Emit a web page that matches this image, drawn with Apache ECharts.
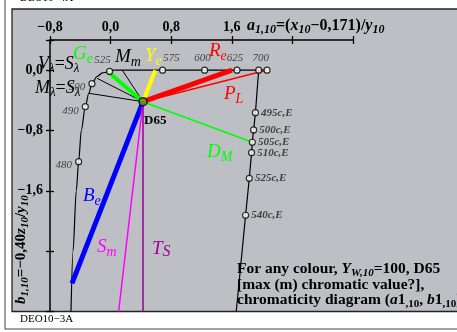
<!DOCTYPE html>
<html>
<head>
<meta charset="utf-8">
<title>DEO10-3A</title>
<script src="https://cdn.jsdelivr.net/npm/echarts@6/dist/echarts.min.js"></script>
<style>
html,body{margin:0;padding:0;background:#fff;}
#main{width:457px;height:332px;}
</style>
</head>
<body>
<div id="main"></div>
<script>
// spectral locus, left branch + top line (a1,10 ; b1,10)
var locusA=[-0.523,-0.496,-0.453,-0.422,-0.387,-0.334,-0.288,-0.246,-0.180,-0.110,-0.013,0.036,0.686,1.241,1.669,1.955,2.065];
var locusB=[-3.2,-2.4,-1.6,-1.214,-0.8,-0.484,-0.306,-0.179,-0.084,-0.037,-0.017,0,0,0,0,0,0];
// marked wavelengths
var waveNames=['480','490','500','525','575','600','625','700',''];
var waveA=[-0.422,-0.334,-0.246,-0.013,0.686,1.241,1.669,1.955,2.065];
var waveB=[-1.214,-0.484,-0.179,-0.017,0,0,0,0,0];
// complementary wavelengths line (c,E)
var compNames=['','495c,E','500c,E','505c,E','510c,E','525c,E','540c,E',''];
var compA=[1.955,1.912,1.888,1.871,1.861,1.831,1.782,1.659];
var compB=[0,-0.564,-0.793,-0.956,-1.094,-1.434,-1.924,-3.2];
var d65=[0.428,-0.418];
// lines starting at D65
var rayNames=['k1','k2','k3','Ge','Ye','Re','PL','DM','Be','Sm','TS'];
var rayA=[0.154,-0.180,-0.290,-0.031,0.590,1.603,2.055,1.871,-0.510,0.106,0.428];
var rayB=[0,-0.107,-0.306,-0.024,0,0,0,-0.956,-2.826,-3.2,-3.2];
var xTickVals=[-0.8,0,0.8,1.6];
var xTicks=['−0,8','0,0','0,8','1,6'];
var yTickVals=[0,-0.8,-1.6];
var yTicks=['0,0','−0,8','−1,6'];

var rayColors=['#000','#000','#000','#00ff00','#ffff00','#ff0000','#ff0000','#00ff00','#0000ff','#ff00ff','#990099'];
var rayWidths=[1,1,1,4,4,5,1.5,1.5,5,1.5,1.5];
var waveLabelPos=[['left',0,3],['left',0,4],['left',0,3],['top',-7,1],['top',9,0],['top',-2,0],['top',-2,0],['top',2,0],null];

var serif='"Liberation Serif","DejaVu Serif",serif';
var chart=echarts.init(document.getElementById('main'));

function fmt(vals,names){
  return function(v){
    for(var i=0;i<vals.length;i++){ if(Math.abs(vals[i]-v)<1e-6) return names[i]; }
    return '';
  };
}
function pairs(a,b){ return a.map(function(v,i){ return [v,b[i]]; }); }

// rich styles: m main italic, n main upright, s subscript italic, t subscript upright
function richSet(size,sub,pad,weight){
  var w=weight||'normal';
  function st(fs,style,p){
    var o={fontSize:fs,fontFamily:serif,fontStyle:style,fontWeight:w,verticalAlign:'middle'};
    if(p) o.padding=[p,0,0,0];
    return o;
  }
  return {m:st(size,'italic'),n:st(size,'normal'),s:st(sub,'italic',pad),t:st(sub,'normal',pad)};
}
function note(x,y,text,color,rich,extra){
  var o={type:'text',x:x,y:y,z:100,style:{text:text,fill:color,rich:rich,align:'left',verticalAlign:'middle'}};
  if(extra){ for(var k in extra) o[k]=extra[k]; }
  return o;
}

var series=[];
series.push({type:'line',data:pairs(locusA,locusB),smooth:0.3,smoothMonotone:'x',symbol:'none',
  lineStyle:{color:'#000',width:1.2},z:3,silent:true});
series.push({type:'line',data:pairs(compA,compB),symbol:'none',lineStyle:{color:'#000',width:1.2},z:3,silent:true});
rayNames.forEach(function(n,i){
  series.push({type:'line',name:n,data:[d65,[rayA[i],rayB[i]]],symbol:'none',
    lineStyle:{color:rayColors[i],width:rayWidths[i],cap:'butt'},z:4,silent:true});
});
series.push({type:'scatter',symbol:'circle',symbolSize:6,z:6,silent:true,
  itemStyle:{color:'#fff',borderColor:'#000',borderWidth:1.2},
  data:waveNames.map(function(n,i){
    var p=waveLabelPos[i];
    var d={value:[waveA[i],waveB[i]]};
    if(p){ d.label={show:true,formatter:n,position:p[0],offset:[p[1],p[2]],distance:3}; }
    return d;
  }),
  label:{color:'#222',fontFamily:serif,fontStyle:'italic',fontSize:11}
});
var cData=[];
compNames.forEach(function(n,i){
  if(n) cData.push({value:[compA[i],compB[i]],label:{show:true,formatter:n}});
});
series.push({type:'scatter',symbol:'circle',symbolSize:6,z:6,silent:true,
  itemStyle:{color:'#fff',borderColor:'#000',borderWidth:1.2},data:cData,
  label:{position:'right',distance:2,color:'#222',fontFamily:serif,fontStyle:'italic',fontWeight:'bold',fontSize:11}
});
series.push({type:'scatter',symbol:'circle',symbolSize:8,z:7,silent:true,
  itemStyle:{color:'#6a9a2a',borderColor:'#000',borderWidth:1.5},data:[d65]});

var axisLabelStyle={color:'#000',fontFamily:serif,fontWeight:'bold',fontSize:14};
var axisRich=richSet(16,12,8,'bold');
var boxRich=richSet(15.5,11,8,'bold');
var option={
  animation:false,
  grid:{left:50,top:40,width:303,height:271.5},
  xAxis:[
    {type:'value',position:'top',min:-0.8,max:3.2,interval:0.8,
     axisLine:{onZero:false,lineStyle:{color:'#000',width:1.5}},
     axisTick:{length:4,lineStyle:{color:'#000',width:1.3}},
     axisLabel:Object.assign({formatter:fmt(xTickVals,xTicks),margin:6},axisLabelStyle),
     splitLine:{show:false}},
    {type:'value',position:'top',min:-0.8,max:3.2,interval:0.8,
     axisLine:{show:false,onZero:false},axisTick:{inside:true,length:4,lineStyle:{color:'#000',width:1.3}},
     axisLabel:{show:false},splitLine:{show:false}}
  ],
  yAxis:[
    {type:'value',position:'left',min:-3.2,max:0.4,interval:0.8,
     axisLine:{onZero:false,lineStyle:{color:'#000',width:1.5}},
     axisTick:{length:4,lineStyle:{color:'#000',width:1.3}},
     axisLabel:Object.assign({formatter:fmt(yTickVals,yTicks),margin:7},axisLabelStyle),
     splitLine:{show:false}},
    {type:'value',position:'left',min:-3.2,max:0.4,interval:0.8,
     axisLine:{show:false,onZero:false},axisTick:{inside:true,length:4,lineStyle:{color:'#000',width:1.3}},
     axisLabel:{show:false},splitLine:{show:false}}
  ],
  graphic:[
    {type:'rect',z:-20,shape:{x:5,y:-10,width:470,height:339},style:{fill:'#fff',stroke:'#444',lineWidth:1}},
    {type:'rect',z:-10,shape:{x:12,y:9,width:446,height:302.5},style:{fill:'#bebfc4',stroke:'#222',lineWidth:1.3}},
    {type:'text',x:20,y:-7,style:{text:'DEO10−4A',fill:'#000',font:'11px '+serif,verticalAlign:'top'}},
    {type:'text',x:20,y:314,style:{text:'DEO10−3A',fill:'#000',font:'11px '+serif,verticalAlign:'top'}},
    note(247,26,'{m|a}{s|1,10}{n|=(}{m|x}{s|10}{n|−0,171)/}{m|y}{s|10}','#000',axisRich),
    note(21,304,'{m|b}{s|1,10}{n|=−0,40}{m|z}{s|10}{n|/}{m|y}{s|10}','#000',richSet(15,11,8,'bold'),{rotation:Math.PI/2}),
    note(38,64,'{m|V}{s|λ}{n|=}{m|S}{s|λ}','#000',richSet(18,13,9)),
    note(35,88,'{m|M}{s|λ}{n|=}{m|S}{s|λ}','#000',richSet(18,13,9)),
    note(73,54,'{m|G}{s|e}','#00ff00',richSet(19,14,10)),
    note(115,57,'{m|M}{s|m}','#000',richSet(19,14,10)),
    note(145,56,'{m|Y}{s|e}','#ffff00',richSet(19,14,10)),
    note(209,51,'{m|R}{s|e}','#ff0000',richSet(19,14,10)),
    note(224,94,'{m|P}{s|L}','#ff0000',richSet(19,14,10)),
    note(207,152,'{m|D}{s|M}','#00ff00',richSet(19,14,10)),
    note(83,196,'{m|B}{s|e}','#0000ff',richSet(19,14,10)),
    note(97,247,'{m|S}{s|m}','#ff00ff',richSet(19,14,10)),
    note(152,249,'{m|T}{s|S}','#990099',richSet(19,16,6)),
    {type:'text',x:144,y:114,z:100,style:{text:'D65',fill:'#000',font:'bold 13px '+serif,verticalAlign:'top'}},
    note(237,269,'{n|For any colour, }{m|Y}{s|W,10}{n|=100, D65}','#000',boxRich),
    note(237,285,'{n|[max (m) chromatic value?],}','#000',boxRich),
    note(237,300,'{n|chromaticity diagram (}{m|a}{n|1}{t|,10}{n|, }{m|b}{n|1}{t|,10}{n|)}','#000',boxRich)
  ],
  series:series
};
chart.setOption(option);
</script>
</body>
</html>
